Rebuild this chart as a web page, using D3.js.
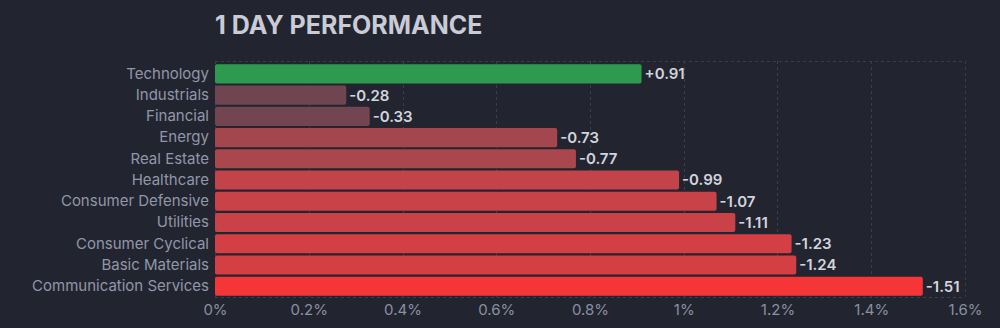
<!DOCTYPE html>
<html><head><meta charset="utf-8">
<script src="https://cdn.jsdelivr.net/npm/d3@7"></script>
<style>
html,body{margin:0;padding:0;background:#22252f;}
svg{display:block;font-family:Inter,"Noto Sans",sans-serif;}
</style></head>
<body><svg id="c" width="1000" height="328"></svg>
<script>
const categories = ["Technology","Industrials","Financial","Energy","Real Estate","Healthcare","Consumer Defensive","Utilities","Consumer Cyclical","Basic Materials","Communication Services"];
const values = [0.91,-0.28,-0.33,-0.73,-0.77,-0.99,-1.07,-1.11,-1.23,-1.24,-1.51];
const tickValues = [0,0.2,0.4,0.6,0.8,1,1.2,1.4,1.6];
const tickLabels = ["0%","0.2%","0.4%","0.6%","0.8%","1%","1.2%","1.4%","1.6%"];
const title = "1 DAY PERFORMANCE";

const svg = d3.select("#c");
const W = 1000;
const plotTop = 61, plotBottom = 297;
const x = d3.scaleLinear().domain([0,1.6]).range([215, 965]);
const y = d3.scaleBand().domain(categories).range([62.2, 297.9]).paddingInner(0.1).paddingOuter(0.1);

const neg = d3.scaleLinear().domain([0.3,0.75,1.0,1.25,1.5]).range(["#6e4550","#a7464e","#c3434a","#d43f43","#f63538"]).clamp(true);
const color = v => v >= 0 ? "#2e9a4f" : neg(-v);

svg.append("text").attr("x",215).attr("y",34).attr("fill","#c9cbd6")
  .attr("font-size",25).attr("font-weight",700).text(title);

// grid
const g = svg.append("g");
g.selectAll("line.v").data(tickValues).join("line")
  .attr("x1",d=>Math.round(x(d))+0.5).attr("x2",d=>Math.round(x(d))+0.5)
  .attr("y1",plotTop).attr("y2",plotBottom)
  .attr("stroke","#3a3e4b").attr("stroke-dasharray","3,3");
[plotTop, plotBottom].forEach(yy=>{
  g.append("line").attr("x1",x(0)).attr("x2",x(1.6)).attr("y1",yy+0.5).attr("y2",yy+0.5)
   .attr("stroke","#3a3e4b").attr("stroke-dasharray","3,3");
});

// x axis
const ax = svg.append("g").attr("transform",`translate(0,${plotBottom})`)
  .call(d3.axisBottom(x).tickValues(tickValues).tickFormat((d,i)=>tickLabels[i]).tickSize(0).tickPadding(7));
ax.select(".domain").remove();
ax.selectAll("text").attr("fill","#8a8fa2").attr("font-size",15).attr("font-family","Inter,sans-serif");

// y axis
const ay = svg.append("g").attr("transform",`translate(${x(0)},0)`)
  .call(d3.axisLeft(y).tickSize(0).tickPadding(6));
ay.select(".domain").remove();
ay.selectAll("text").attr("fill","#9196aa").attr("font-size",15).attr("font-family","Inter,sans-serif");

// bars
const data = categories.map((c,i)=>({c, v:values[i]}));
svg.selectAll("rect.bar").data(data).join("rect")
  .attr("x",x(0)).attr("y",d=>y(d.c)).attr("width",d=>x(Math.abs(d.v))-x(0)).attr("height",y.bandwidth())
  .attr("rx",2).attr("fill",d=>color(d.v));

svg.selectAll("text.val").data(data).join("text")
  .attr("x",d=>x(Math.abs(d.v))+3).attr("y",d=>y(d.c)+y.bandwidth()/2).attr("dy","0.36em")
  .attr("fill","#d2d4dd").attr("font-size",15).attr("font-weight",600)
  .text(d=>(d.v>=0?"+":"-")+Math.abs(d.v).toFixed(2));
</script></body></html>
